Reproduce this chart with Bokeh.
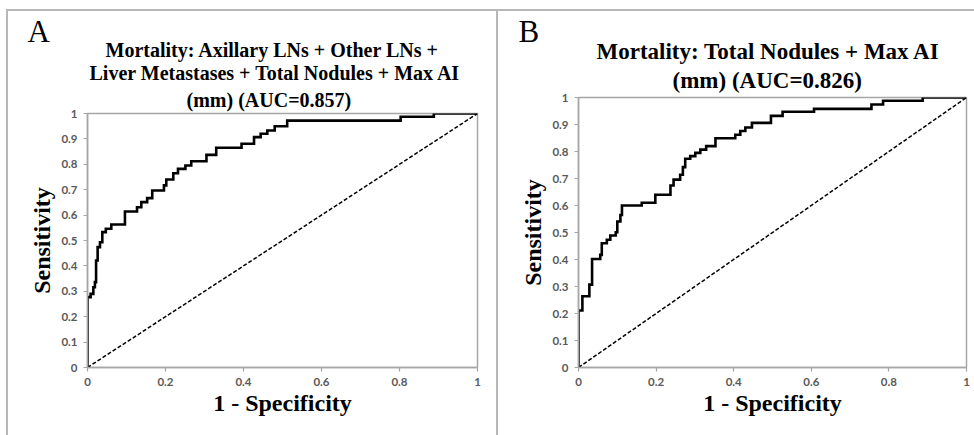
from bokeh.plotting import figure
from bokeh.layouts import row
from bokeh.models import Title, FixedTicker
from bokeh.embed import file_html
from bokeh.resources import INLINE

# ---------------- data ----------------
fpr_a = [0, 0, 0.008, 0.015, 0.019, 0.022, 0.026, 0.032, 0.038, 0.047, 0.061, 0.096,
         0.127, 0.138, 0.153, 0.166, 0.196, 0.202, 0.22, 0.232, 0.251, 0.266, 0.305,
         0.33, 0.395, 0.427, 0.444, 0.461, 0.48, 0.512, 0.803, 0.888, 1.0]
tpr_a = [0, 0.277, 0.29, 0.316, 0.336, 0.421, 0.474, 0.493, 0.533, 0.546, 0.563, 0.614,
         0.631, 0.651, 0.667, 0.697, 0.717, 0.74, 0.765, 0.782, 0.795, 0.812, 0.837,
         0.865, 0.881, 0.907, 0.92, 0.933, 0.95, 0.972, 0.987, 1.0, 1.0]

fpr_b = [0, 0, 0.01, 0.028, 0.035, 0.056, 0.06, 0.073, 0.082, 0.096, 0.1, 0.108, 0.112,
         0.163, 0.198, 0.237, 0.245, 0.262, 0.269, 0.275, 0.288, 0.301, 0.314, 0.329,
         0.353, 0.404, 0.417, 0.43, 0.447, 0.496, 0.526, 0.607, 0.755, 0.785, 0.887, 1.0]
tpr_b = [0, 0.211, 0.264, 0.307, 0.402, 0.417, 0.46, 0.473, 0.489, 0.501, 0.541, 0.565, 0.6,
         0.61, 0.64, 0.674, 0.696, 0.714, 0.742, 0.773, 0.783, 0.795, 0.807, 0.82,
         0.849, 0.862, 0.876, 0.889, 0.906, 0.932, 0.947, 0.958, 0.974, 0.988, 1.0, 1.0]

chance = [0, 1]

x_ticks = [0, 0.2, 0.4, 0.6, 0.8, 1]
x_tick_labels = ["0", "0.2", "0.4", "0.6", "0.8", "1"]
y_ticks = [0, 0.1, 0.2, 0.3, 0.4, 0.5, 0.6, 0.7, 0.8, 0.9, 1]
y_tick_labels = ["0", "0.1", "0.2", "0.3", "0.4", "0.5", "0.6", "0.7", "0.8", "0.9", "1"]

title_a = ["Mortality: Axillary LNs + Other LNs +",
           "Liver Metastases + Total Nodules + Max AI",
           "(mm) (AUC=0.857)"]
title_b = ["Mortality: Total Nodules + Max AI",
           "(mm) (AUC=0.826)"]
letters = ["A", "B"]
x_label = "1 - Specificity"
y_label = "Sensitivity"

SERIF = "Liberation Serif"
GRAY = "#a6a6a6"
BORDER = "#b8b8b8"


def make_panel(fpr, tpr, title_lines, letter, width, height, bl, br, bt, bb,
               title_size, title_offsets, title_standoffs, letter_offset,
               letter_standoff, shadow):
    p = figure(width=width, height=height,
               min_border_left=bl, min_border_right=br, min_border_top=bt,
               min_border_bottom=bb, x_range=(0, 1), y_range=(0, 1),
               output_backend="svg", toolbar_location=None,
               border_fill_color=None, background_fill_color="white",
               styles={"box-shadow": shadow})
    try:
        p.frame_align = False
    except Exception:
        pass
    p.xgrid.visible = False
    p.ygrid.visible = False
    p.outline_line_color = GRAY
    p.outline_line_width = 1.5

    p.xaxis.ticker = FixedTicker(ticks=x_ticks)
    p.xaxis.major_label_overrides = dict(zip(x_ticks, x_tick_labels))
    p.yaxis.ticker = FixedTicker(ticks=y_ticks)
    p.yaxis.major_label_overrides = dict(zip(y_ticks, y_tick_labels))
    for ax in (p.xaxis[0], p.yaxis[0]):
        ax.axis_line_color = GRAY
        ax.axis_line_width = 1.5
        ax.major_tick_line_color = GRAY
        ax.major_tick_line_width = 1.2
        ax.major_tick_out = 4
        ax.major_tick_in = 0
        ax.minor_tick_line_color = None
        ax.major_label_text_font = "Lato"
        ax.major_label_text_font_style = "bold"
        ax.major_label_text_font_size = "11.5px"
        ax.major_label_text_color = "#595959"
        ax.major_label_standoff = 6
        ax.axis_label_text_font = SERIF
        ax.axis_label_text_font_style = "bold"
        ax.axis_label_text_font_size = "24px"
        ax.axis_label_text_color = "black"
    p.xaxis.axis_label = x_label
    p.yaxis.axis_label = y_label
    p.xaxis.axis_label_standoff = 1
    p.yaxis.axis_label_standoff = 3

    p.line(chance, chance, line_color="black", line_width=1.5, line_dash="4 2")
    p.step(fpr, tpr, mode="after", line_color="black", line_width=2.6,
           line_join="miter")

    # titles: nearest to the frame first
    for txt, off, so in reversed(list(zip(title_lines, title_offsets, title_standoffs))):
        p.add_layout(Title(text=txt, align="left", offset=off,
                           standoff=so, text_font=SERIF, text_font_style="bold",
                           text_font_size=title_size, text_color="black"), "above")
    p.add_layout(Title(text=letter, align="left", offset=letter_offset,
                       standoff=letter_standoff, text_font=SERIF,
                       text_font_style="normal", text_font_size="31px",
                       text_color="black"), "above")
    return p


pa = make_panel(fpr_a, tpr_a, title_a, letters[0], 498, 435,
                87, 21, 113, 68, "20px", [18, 2, 99], [-1, -1, 6], -60, -22,
                "inset 0 9px 0 white, inset 6px 0 0 white, inset -2px 0 0 " + BORDER
                + ", inset 0 11px 0 " + BORDER + ", inset 8px 0 0 " + BORDER)
pb = make_panel(fpr_b, tpr_b, title_b, letters[1], 476, 435,
                80, 8, 97, 68, "23px", [18, 94], [-4, 9], -60, -20,
                "inset 0 9px 0 white, inset 0 11px 0 " + BORDER)

layout = row(pa, pb)
open("out.html", "w").write(file_html(layout, INLINE))
